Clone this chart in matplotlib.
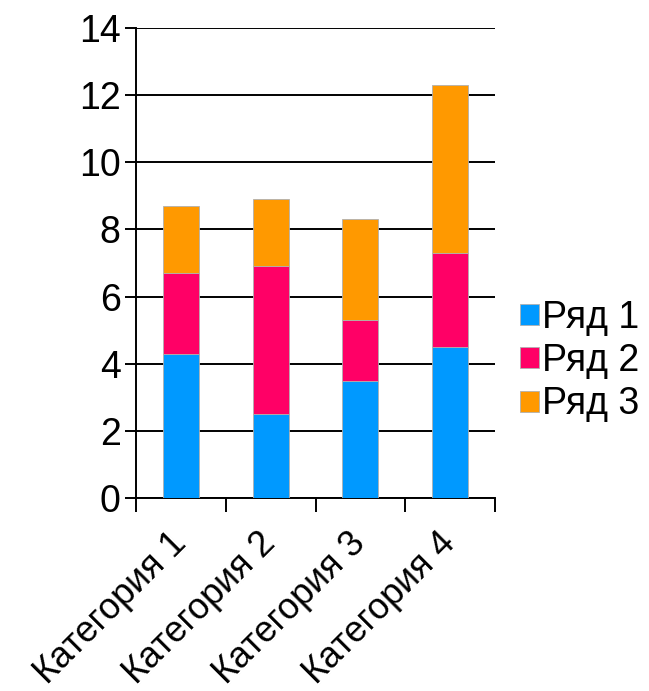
import matplotlib
matplotlib.use("Agg")
import numpy as np
import matplotlib.pyplot as plt
from matplotlib.patches import Patch

plt.rcParams['font.family'] = ['Liberation Sans', 'DejaVu Sans']

# Datos
categorias = ["Категория 1", "Категория 2", "Категория 3", "Категория 4"]
ryad1 = [4.3, 2.5, 3.5, 4.5]
ryad2 = [2.4, 4.4, 1.8, 2.8]
ryad3 = [2.0, 2.0, 3.0, 5.0]
series_nombres = ["Ряд 1", "Ряд 2", "Ряд 3"]
colores = ["#0099FF", "#FF0066", "#FF9900"]
y_ticks = [0, 2, 4, 6, 8, 10, 12, 14]

fig = plt.figure(figsize=(6.49, 6.91), dpi=100)
ax = fig.add_axes([136 / 649, 1 - 498 / 691, 359 / 649, 470 / 691])

x = np.arange(len(categorias))
abajo = np.zeros(len(categorias))
for valores, color in zip([ryad1, ryad2, ryad3], colores):
    ax.bar(x, valores, width=0.4, bottom=abajo, color=color,
           edgecolor="#b0b0b0", linewidth=0.6, zorder=3)
    abajo += np.array(valores)

ax.set_xlim(-0.5, len(categorias) - 0.5)
ax.set_ylim(0, 14)
ax.set_yticks(y_ticks)
ax.set_yticklabels([str(t) for t in y_ticks], fontsize=27)
ax.yaxis.grid(True, color="black", linewidth=1.4, zorder=0)
ax.tick_params(axis="y", length=8, width=1.4, pad=3)

# Ticks del eje x en los limites de categoria, etiquetas centradas
ax.set_xticks(np.arange(-0.5, len(categorias), 1.0))
ax.set_xticklabels([])
ax.set_xticks(x, minor=True)
ax.set_xticklabels(categorias, minor=True, rotation=45, ha="right",
                   va="center", rotation_mode="anchor", fontsize=26)
ax.tick_params(axis="x", which="major", length=10, width=1.4, direction="out")
ax.tick_params(axis="x", which="minor", length=0, pad=29)

for lado in ["top", "right"]:
    ax.spines[lado].set_visible(False)
ax.spines["left"].set_linewidth(1.4)
ax.spines["bottom"].set_linewidth(1.4)

handles = [Patch(facecolor=c, edgecolor="#b0b0b0", linewidth=0.6) for c in colores]
fig.legend(handles, series_nombres, loc="center left",
           bbox_to_anchor=(520 / 649, 1 - 361 / 691), frameon=False,
           fontsize=27, handlelength=0.5, handleheight=0.5,
           handletextpad=0.1, labelspacing=0.2, borderaxespad=0,
           borderpad=0)

fig.savefig("out.png", dpi=100)
